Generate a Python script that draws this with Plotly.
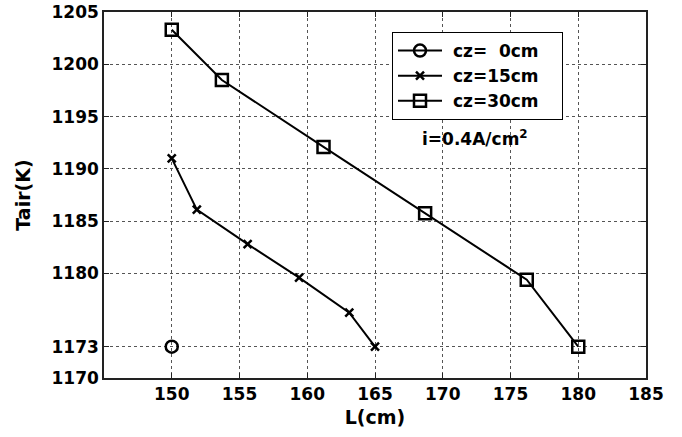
import plotly.graph_objects as go

# Data
x_cz0 = [150]
y_cz0 = [1173]
x_cz15 = [150, 151.85, 155.6, 159.4, 163.1, 165]
y_cz15 = [1191.0, 1186.1, 1182.8, 1179.6, 1176.25, 1173]
x_cz30 = [150, 153.7, 161.2, 168.7, 176.2, 180]
y_cz30 = [1203.3, 1198.5, 1192.1, 1185.75, 1179.4, 1173]
names = ["\u00a0cz=\u20070cm\u00a0\u00a0\u00a0", "\u00a0cz=15cm\u00a0\u00a0\u00a0", "\u00a0cz=30cm\u00a0\u00a0\u00a0"]
xticks = [150, 155, 160, 165, 170, 175, 180, 185]
yticks = [1170, 1173, 1180, 1185, 1190, 1195, 1200, 1205]

FONT = "DejaVu Sans, Liberation Sans, Arial, sans-serif"
fig = go.Figure()
fig.add_trace(go.Scatter(x=x_cz0, y=y_cz0, mode="lines+markers", name=names[0],
                         line=dict(color="black", width=2),
                         marker=dict(symbol="circle-open", size=12, color="black",
                                     line=dict(width=2.5, color="black"))))
fig.add_trace(go.Scatter(x=x_cz15, y=y_cz15, mode="lines+markers", name=names[1],
                         line=dict(color="black", width=2),
                         marker=dict(symbol="x-thin-open", size=8, color="black",
                                     line=dict(width=2.5, color="black"))))
fig.add_trace(go.Scatter(x=x_cz30, y=y_cz30, mode="lines+markers", name=names[2],
                         line=dict(color="black", width=2),
                         marker=dict(symbol="square-open", size=12, color="black",
                                     line=dict(width=2.5, color="black"))))

axis_common = dict(showline=True, linecolor="#222", linewidth=1.5, mirror="ticks",
                   ticks="inside", ticklen=5, tickcolor="#222",
                   showgrid=True, gridcolor="#555", griddash="dot", gridwidth=1,
                   zeroline=False, automargin=False,
                   tickfont=dict(family=FONT, size=17, color="black", weight="bold"))

fig.update_xaxes(range=[145, 185], tickvals=xticks, **axis_common,
                 title=dict(text="L(cm)", standoff=8,
                            font=dict(family=FONT, size=19, color="black", weight="bold")))
fig.update_yaxes(range=[1170, 1205], tickvals=yticks, **axis_common,
                 title=dict(text="Tair(K)", standoff=16,
                            font=dict(family=FONT, size=19, color="black", weight="bold")))

fig.add_annotation(x=(475 - 104) / 542, y=1 - (138 - 12) / 366, xref="paper", yref="paper",
                   text="i=0.4A/cm<sup>2</sup>", showarrow=False, xanchor="center", yanchor="middle",
                   font=dict(family=FONT, size=17, color="black", weight="bold"))

fig.update_layout(
    width=682, height=437,
    margin=dict(l=104, r=36, t=12, b=59),
    paper_bgcolor="white", plot_bgcolor="white",
    showlegend=True,
    legend=dict(x=(392 - 104) / 542, y=1 - (32 - 12) / 366, xanchor="left", yanchor="top",
                bgcolor="white", bordercolor="black", borderwidth=1,
                itemwidth=44, tracegroupgap=0,
                font=dict(family=FONT, size=17, color="black", weight="bold")),
)

fig.write_html("out.html")
